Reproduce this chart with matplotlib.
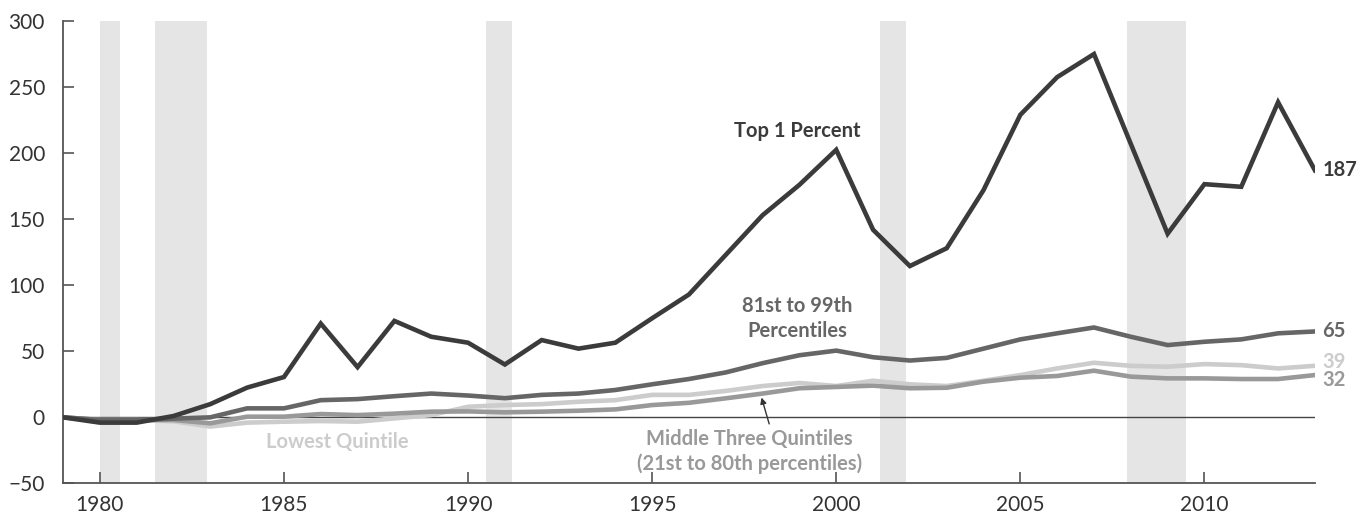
import matplotlib
matplotlib.use("Agg")
import matplotlib.pyplot as plt

years = list(range(1979, 2014))
top1 = [0, -4, -4, 1, 10, 22.5, 30.5, 71, 38, 73, 61, 56.5, 40, 58.5, 52, 56.5, 75, 93,
        123, 153, 176, 202.5, 142, 114.5, 128, 172, 229, 257.5, 275, 207, 139, 176.5,
        174.5, 238.5, 187]
p81_99 = [0, -2, -2, -1, 0, 6.8, 6.8, 13, 13.8, 16, 18, 16.5, 14.5, 17, 18, 20.7, 25, 29,
          34, 41, 47, 50.5, 45.5, 43, 45, 52, 59, 63.6, 68, 61, 54.7, 57.2, 59, 63.6, 65]
middle3 = [0, -2, -2, -2, -4.5, 0.5, 0.5, 2.5, 1.7, 2.8, 4.3, 4.5, 3.8, 4.3, 5, 6, 9.3, 11,
           14.4, 18, 22, 23, 24, 22, 22.4, 27, 30, 31.3, 35.3, 30.8, 29.5, 29.5, 29, 29, 32]
lowest = [0, -2, -2, -3, -7, -4, -3.3, -2.8, -3.3, -0.8, 1.7, 8, 9.3, 10, 11.8, 13, 17, 17,
          20, 23.7, 26, 23.7, 27.7, 25, 23.7, 27.7, 32, 37, 41.3, 39, 38.3, 40.3, 39.5, 37, 39]
recessions = [(1980.0, 1980.55), (1981.5, 1982.9), (1990.5, 1991.2), (2001.2, 2001.9), (2007.9, 2009.5)]
yticks = [-50, 0, 50, 100, 150, 200, 250, 300]
xticks = [1980, 1985, 1990, 1995, 2000, 2005, 2010]

plt.rcParams['font.family'] = ['Lato', 'DejaVu Sans']

fig = plt.figure(figsize=(13.64, 5.2), dpi=100)
ax = fig.add_axes([0.0462, 0.0704, 0.9178, 0.8892])

for a, b in recessions:
    ax.axvspan(a, b, color='#e5e5e5', lw=0, zorder=0)

ax.axhline(0, color='#444444', lw=1.0, zorder=1)

c_top, c_81, c_mid, c_low = '#3b3b3b', '#666666', '#999999', '#cccccc'
ax.plot(years, lowest, color=c_low, lw=3.3, solid_joinstyle='miter', zorder=2)
ax.plot(years, middle3, color=c_mid, lw=3.3, solid_joinstyle='miter', zorder=3)
ax.plot(years, p81_99, color=c_81, lw=3.3, solid_joinstyle='miter', zorder=4)
ax.plot(years, top1, color=c_top, lw=3.3, solid_joinstyle='miter', zorder=5)

ax.set_xlim(1979, 2013)
ax.set_ylim(-50, 300)
ax.set_yticks(yticks)
ax.set_xticks(xticks)
for s in ['top', 'right']:
    ax.spines[s].set_visible(False)
for s in ['left', 'bottom']:
    ax.spines[s].set_color('#555555')
    ax.spines[s].set_linewidth(1.3)
ax.tick_params(axis='both', direction='in', length=8, width=1.2, color='#555555',
               labelsize=15, labelcolor='#333333')
ax.tick_params(axis='y', pad=13)
ax.tick_params(axis='x', pad=8)

lab = dict(fontweight='bold', fontsize=14.5, ha='center', va='center')
ax.text(1998.95, 217, 'Top 1 Percent', color=c_top, **lab)
ax.text(1998.95, 75, '81st to 99th\nPercentiles', color=c_81, linespacing=1.3, **lab)
ax.text(1986.45, -18.5, 'Lowest Quintile', color=c_low, **lab)
ax.text(1997.65, -26, 'Middle Three Quintiles\n(21st to 80th percentiles)', color=c_mid,
        linespacing=1.3, **lab)
ax.annotate('', xy=(1997.95, 17), xytext=(1998.2, -7),
            arrowprops=dict(arrowstyle='-|>', color='#333333', lw=1.0, mutation_scale=9),
            zorder=6)

end = dict(fontsize=14.5, ha='left', va='center', fontweight='bold')
ax.text(2013.2, 187, '187', color=c_top, clip_on=False, **end)
ax.text(2013.2, 65, '65', color=c_81, clip_on=False, **end)
ax.text(2013.2, 42, '39', color=c_low, clip_on=False, **end)
ax.text(2013.2, 28, '32', color=c_mid, clip_on=False, **end)

fig.savefig('out.png', dpi=100)
